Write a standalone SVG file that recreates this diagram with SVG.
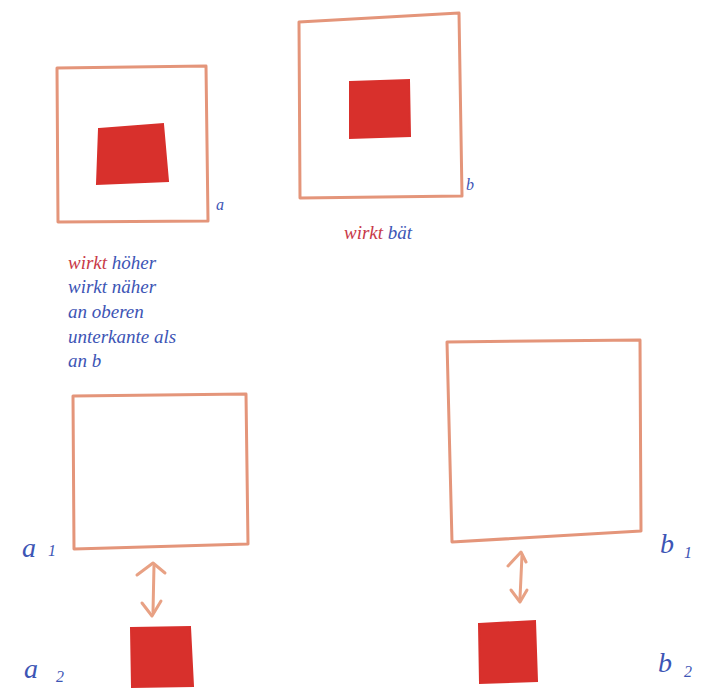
<svg xmlns="http://www.w3.org/2000/svg" width="713" height="690" viewBox="0 0 713 690">
<style>
.frame{fill:none;stroke:#e4957a;stroke-width:3;stroke-linejoin:round}
.fill{fill:#d8302c;stroke:#d8302c;stroke-width:2}
.hand{font-family:"Liberation Serif",serif;font-style:italic;fill:#3d55b5}
.lbl{font-size:28px}
.sub{font-size:16px}
.note{font-size:19px}
.conn{fill:none;stroke:#e8a184;stroke-width:3;stroke-linecap:round;stroke-linejoin:round}
</style>
<rect width="713" height="690" fill="#ffffff"/>
<g id="a">
<path class="frame" d="M57,68 L206,66 L208,221 L58,222 Z"/>
<path class="fill" d="M99,129 L163,124 L168,181 L97,184 Z"/>
<text class="hand sub" x="216" y="210">a</text>
</g>
<g id="b">
<path class="frame" d="M299,22 L459,13 L462,196 L300,198 Z"/>
<path class="fill" d="M350,82 L409,80 L410,136 L350,138 Z"/>
<text class="hand sub" x="466" y="190">b</text>
</g>
<g id="note-a">
<text class="hand note" x="68" y="269"><tspan fill="#c83a48">wirkt</tspan> höher</text>
<text class="hand note" x="68" y="293">wirkt näher</text>
<text class="hand note" x="68" y="318">an oberen</text>
<text class="hand note" x="68" y="343">unterkante als</text>
<text class="hand note" x="68" y="367">an b</text>
</g>
<g id="note-b">
<text class="hand note" x="344" y="239"><tspan fill="#c83a48">wirkt</tspan> bät</text>
</g>
<g id="a1">
<path class="frame" d="M73,396 L246,394 L248,544 L74,549 Z"/>
<text class="hand lbl" x="22" y="557">a</text>
<text class="hand sub" x="48" y="556">1</text>
</g>
<g id="a2">
<path class="fill" d="M131,628 L190,627 L193,686 L132,687 Z"/>
<text class="hand lbl" x="24" y="678">a</text>
<text class="hand sub" x="56" y="682">2</text>
</g>
<g id="b1">
<path class="frame" d="M447,342 L640,340 L641,531 L452,542 Z"/>
<text class="hand lbl" x="660" y="553">b</text>
<text class="hand sub" x="684" y="558">1</text>
</g>
<g id="b2">
<path class="fill" d="M479,624 L535,621 L537,681 L480,683 Z"/>
<text class="hand lbl" x="658" y="672">b</text>
<text class="hand sub" x="684" y="677">2</text>
</g>
<g id="connectors">
<path class="conn" d="M154,565 L153,612"/>
<path class="conn" d="M137,575 L153,563 L165,573"/>
<path class="conn" d="M142,603 L152,616 L161,601"/>
<path class="conn" d="M522,555 L520,598"/>
<path class="conn" d="M508,566 L521,552 L526,562"/>
<path class="conn" d="M511,590 L520,602 L527,590"/>
</g>
</svg>
